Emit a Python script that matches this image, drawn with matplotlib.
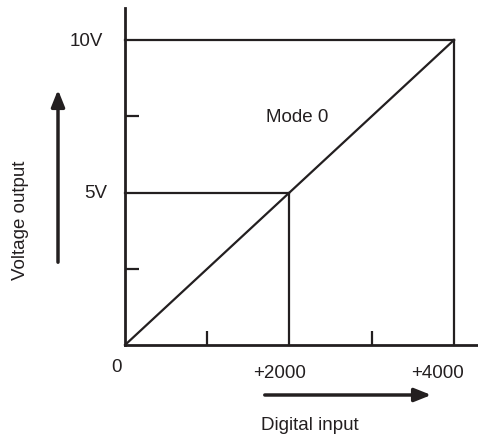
import matplotlib.pyplot as plt

# mode 0: digital input -> voltage output
digital_in = [0, 2000, 4000]
voltage_out = [0, 5, 10]
x_labels = ["0", "+2000", "+4000"]
y_labels = ["5V", "10V"]

W, H = 478, 441
ink = "#231f20"

plt.rcParams['font.family'] = ['Liberation Sans', 'DejaVu Sans']

fig = plt.figure(figsize=(W / 100, H / 100), dpi=100)
ax = fig.add_axes([125 / W, (H - 345) / H, (477 - 125) / W, (345 - 8) / H])
ax.set_xlim(0, 4280)
ax.set_ylim(0, 11.05)
for s in ['top', 'right']:
    ax.spines[s].set_visible(False)
for s in ['left', 'bottom']:
    ax.spines[s].set_linewidth(2)
    ax.spines[s].set_color(ink)

ax.plot(digital_in, voltage_out, color=ink, lw=1.6, clip_on=False)
for x, v in zip(digital_in[1:], voltage_out[1:]):
    ax.plot([0, x], [v, v], color=ink, lw=1.6, clip_on=False)
    ax.plot([x, x], [0, v], color=ink, lw=1.6, clip_on=False)

ax.set_xticks([1000, 3000])
ax.set_yticks([2.5, 7.5])
ax.tick_params(direction='in', length=10, width=1.6, color=ink,
               labelbottom=False, labelleft=False)


def put(px, py, s, **kw):
    fig.text(px / W, 1 - py / H, s, ha='center', va='center',
             color=ink, fontsize=13.5, **kw)


put(116, 368, x_labels[0])
put(280, 373, x_labels[1])
put(437, 373, x_labels[2])
put(96, 193, y_labels[0])
put(86, 41, y_labels[1])
put(297, 117, "Mode 0")
put(310, 425, "Digital input")
put(21, 220, "Voltage output", rotation=90)

arrow = dict(arrowstyle='-|>,head_length=1.0,head_width=0.4', color=ink, lw=2.5)
fig.add_artist(plt.Annotation('', xy=(434 / W, 1 - 395 / H), xytext=(262 / W, 1 - 395 / H),
                              xycoords='figure fraction', arrowprops=arrow))
fig.add_artist(plt.Annotation('', xy=(58 / W, 1 - 87 / H), xytext=(58 / W, 1 - 265 / H),
                              xycoords='figure fraction', arrowprops=arrow))

fig.savefig('out.png', dpi=100)
